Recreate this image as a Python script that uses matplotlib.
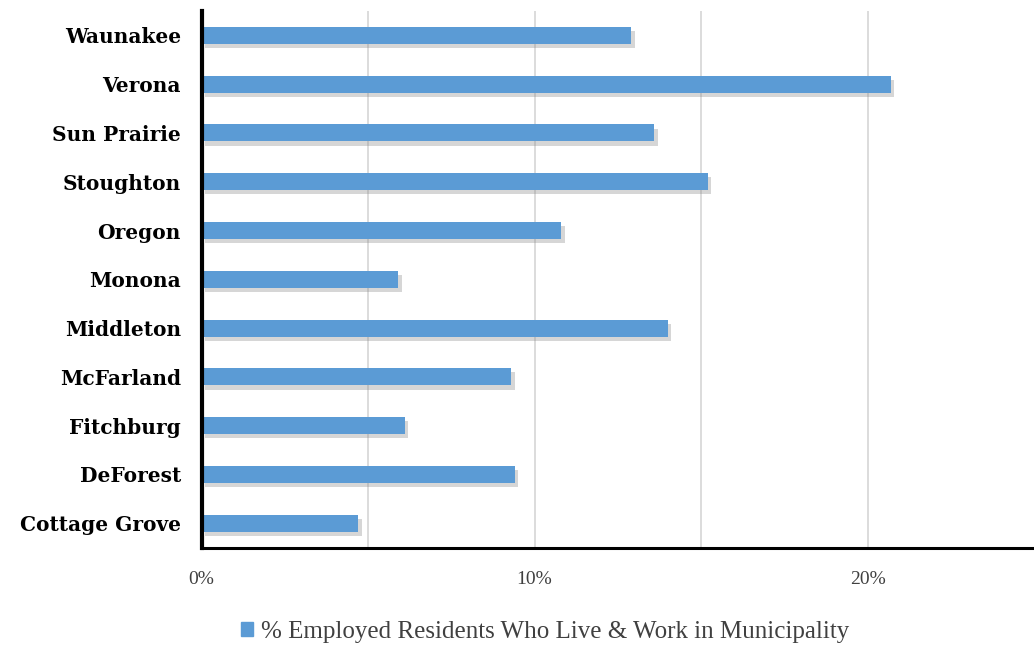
import matplotlib.pyplot as plt
import matplotlib.patheffects as pe
from matplotlib.ticker import FuncFormatter, FixedLocator

# Share of employed residents who also work in their own municipality (%)
towns = ['Cottage Grove', 'DeForest', 'Fitchburg', 'McFarland', 'Middleton',
         'Monona', 'Oregon', 'Stoughton', 'Sun Prairie', 'Verona', 'Waunakee']
pct = [4.7, 9.4, 6.1, 9.3, 14.0, 5.9, 10.8, 15.2, 13.6, 20.7, 12.9]
series_name = '% Employed Residents Who Live & Work in Municipality'

bar_color = '#5b9bd5'

fig = plt.figure(figsize=(10.34, 6.48), dpi=100)
ax = fig.add_axes([0.195, 0.155, 0.805, 0.828])

bars = ax.barh(towns, pct, height=0.35, color=bar_color, label=series_name, zorder=3)
for b in bars:
    b.set_path_effects([pe.SimplePatchShadow(offset=(2.5, -3), shadow_rgbFace='#8a8a8a', alpha=0.35),
                        pe.Normal()])

ax.set_xlim(0, 25)
ax.set_ylim(-0.5, len(towns) - 0.5)
ax.xaxis.set_major_locator(FixedLocator([0, 10, 20]))
ax.xaxis.set_minor_locator(FixedLocator([5, 15]))
ax.xaxis.set_major_formatter(FuncFormatter(lambda v, p: f'{v:.0f}%'))
ax.grid(axis='x', which='both', color='#dcdcdc', linewidth=1.4, zorder=0)

for s in ['top', 'right']:
    ax.spines[s].set_visible(False)
ax.spines['left'].set_linewidth(3)
ax.spines['bottom'].set_linewidth(2.2)
ax.spines['left'].set_zorder(4)

ax.tick_params(axis='x', which='both', length=0, pad=17, labelsize=14, labelcolor='#404040')
ax.tick_params(axis='y', length=0, pad=15)
for lbl in ax.get_xticklabels():
    lbl.set_family('Liberation Serif')
for lbl in ax.get_yticklabels():
    lbl.set_family('DejaVu Serif')
    lbl.set_fontweight('bold')
    lbl.set_fontsize(14.5)

leg = fig.legend(handles=[plt.Rectangle((0, 0), 1, 1, color=bar_color)], labels=[series_name],
                 loc='lower center', bbox_to_anchor=(0.527, -0.027), frameon=False,
                 prop={'family': 'Liberation Serif', 'size': 18},
                 handlelength=0.5, handleheight=0.5, handletextpad=0.3)
for t in leg.get_texts():
    t.set_color('#404040')

fig.savefig('out.png', dpi=100)
